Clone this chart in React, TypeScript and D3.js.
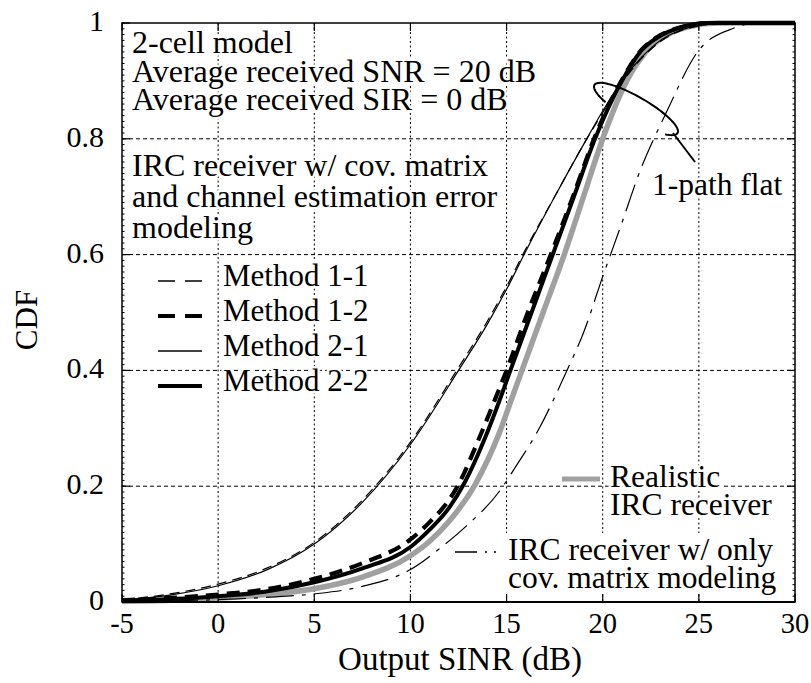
import React from 'react';
import * as d3 from 'd3';

const xTicks = [-5, 0, 5, 10, 15, 20, 25, 30];
const xTickLabels = ['-5', '0', '5', '10', '15', '20', '25', '30'];
const yTicks = [0, 0.2, 0.4, 0.6, 0.8, 1];
const yTickLabels = ['0', '0.2', '0.4', '0.6', '0.8', '1'];

// [Output SINR (dB), CDF]
const method11 = [[-5,0.004],[-2.5,0.014],[0,0.031],[2.5,0.058],[5,0.103],[7.5,0.176],[10,0.276],[12.5,0.405],[14,0.485],[15,0.545],[16,0.61],[17.5,0.7],[19,0.79],[20,0.845],[21,0.897],[22,0.938],[23,0.968],[24,0.986],[25,0.995],[26.5,1],[30,1]];
const method21 = [[-5,0.003],[-2.5,0.012],[0,0.028],[2.5,0.055],[5,0.1],[7.5,0.172],[10,0.272],[12.5,0.4],[14,0.48],[15,0.54],[16,0.606],[17.5,0.7],[19,0.79],[20,0.848],[21,0.9],[22,0.94],[23,0.97],[24,0.987],[25,0.996],[26.5,1],[30,1]];
const method12 = [[-5,0.003],[-2.5,0.007],[0,0.013],[2.5,0.022],[5,0.04],[7.5,0.067],[10,0.108],[11,0.138],[12,0.176],[12.45,0.2],[13.6,0.285],[14.4,0.35],[15,0.4],[16.1,0.5],[17.3,0.6],[18.45,0.7],[19.55,0.8],[21,0.902],[22,0.953],[23,0.979],[24,0.992],[25.5,1],[30,1]];
const method22 = [[-5,0.002],[-2.5,0.005],[0,0.01],[2.5,0.018],[5,0.034],[7.5,0.058],[10,0.095],[11,0.125],[12,0.162],[12.8,0.205],[13.9,0.285],[14.6,0.345],[15.2,0.4],[16.3,0.5],[17.4,0.6],[18.5,0.7],[19.6,0.8],[21,0.9],[22,0.952],[23,0.978],[24,0.992],[25.5,1],[30,1]];
const realistic = [[-5,0.001],[-2.5,0.003],[0,0.007],[2.5,0.013],[5,0.023],[7.5,0.043],[10,0.08],[11,0.105],[12,0.139],[13.4,0.205],[14.6,0.29],[15.2,0.345],[15.8,0.4],[16.9,0.5],[18,0.6],[19,0.7],[20,0.8],[21.25,0.9],[22.3,0.952],[23.5,0.982],[24.5,0.994],[26,1],[30,1]];
const covOnly = [[-5,0],[-2.5,0.002],[0,0.004],[2.5,0.008],[5,0.014],[7.5,0.027],[10,0.056],[11.7,0.097],[12.9,0.131],[14.6,0.19],[15.5,0.235],[16.7,0.3],[18.1,0.397],[19,0.465],[20,0.562],[21,0.655],[21.9,0.741],[23.3,0.845],[25,0.953],[26.8,0.991],[28,1],[30,1]];

const infoLines = ['2-cell model', 'Average received SNR = 20 dB', 'Average received SIR = 0 dB'];
const ircLines = ['IRC receiver w/ cov. matrix', 'and channel estimation error', 'modeling'];
const methodNames = ['Method 1-1', 'Method 1-2', 'Method 2-1', 'Method 2-2'];

const FONT = "'Liberation Serif', Tinos, 'Times New Roman', Times, serif";
const GRAY = '#a0a0a0';

export default function App() {
  const W = 811, H = 683;
  const m = { left: 122, right: 795, top: 23, bottom: 602 };
  const x = d3.scaleLinear().domain([-5, 30]).range([m.left, m.right]);
  const y = d3.scaleLinear().domain([0, 1]).range([m.bottom, m.top]);
  const line = d3.line<number[]>().x(d => x(d[0])).y(d => y(d[1])).curve(d3.curveMonotoneX);

  const halo: any = { stroke: '#fff', strokeWidth: 5, paintOrder: 'stroke', strokeLinejoin: 'round' };

  // annotation ellipse arc
  const cx = 636, cy = 109, ea = 48, eb = 12, th = (30 * Math.PI) / 180;
  const ux = Math.cos(th), uy = Math.sin(th), vx = -Math.sin(th), vy = Math.cos(th);
  const arcPts = d3.range(2.24, 2 * Math.PI + 0.7, 0.05).map(t => [
    cx + ea * Math.cos(t) * ux + eb * Math.sin(t) * vx,
    cy + ea * Math.cos(t) * uy + eb * Math.sin(t) * vy,
  ]);
  const arcPath = d3.line()(arcPts as [number, number][]);

  const minorY = d3.range(0, 1.0001, 0.01);
  const methodStyles = [
    { w: 1.3, dash: '17,10' },
    { w: 3.8, dash: '17,10' },
    { w: 1.3, dash: undefined },
    { w: 4, dash: undefined },
  ];
  const methodBaselines = [286, 321, 356, 391];

  return (
    <svg width={W} height={H} style={{ position: 'absolute', left: 0, top: 0, background: '#fff', fontFamily: FONT }}>
      <rect x={0} y={0} width={W} height={H} fill="#fff" />
      {/* grid */}
      {xTicks.slice(1, -1).map(t => (
        <line key={'gx' + t} x1={x(t)} x2={x(t)} y1={m.top} y2={m.bottom} stroke="#000" strokeWidth={1} strokeDasharray="2,2.5" />
      ))}
      {yTicks.slice(1, -1).map(t => (
        <line key={'gy' + t} x1={m.left} x2={m.right} y1={y(t)} y2={y(t)} stroke="#000" strokeWidth={1} strokeDasharray="4,3" />
      ))}
      {/* bottom-right legend white box */}
      <rect x={504} y={533} width={278} height={60} fill="#fff" />

      {/* texts in plot */}
      <g fontSize={32} fill="#000" style={halo}>
        {infoLines.map((s, i) => (
          <text key={s} x={132} y={53 + i * 28.5}>{s}</text>
        ))}
        {ircLines.map((s, i) => (
          <text key={s} x={132} y={176 + i * 31}>{s}</text>
        ))}
      </g>
      <g fontSize={31} fill="#000" style={halo}>
        {methodNames.map((s, i) => (
          <text key={s} x={223} y={methodBaselines[i]}>{s}</text>
        ))}
      </g>
      {methodNames.map((s, i) => (
        <line key={'ls' + s} x1={158} x2={202} y1={methodBaselines[i] - 5} y2={methodBaselines[i] - 5}
          stroke="#000" strokeWidth={methodStyles[i].w} strokeDasharray={methodStyles[i].dash} />
      ))}
      <g fontSize={31.5} fill="#000" style={halo}>
        <text x={610} y={487}>Realistic</text>
        <text x={610} y={515}>IRC receiver</text>
        <text x={508} y={560}>IRC receiver w/ only</text>
        <text x={508} y={588}>cov. matrix modeling</text>
        <text x={652} y={195}>1-path flat</text>
      </g>
      <line x1={562} x2={600} y1={479} y2={479} stroke={GRAY} strokeWidth={5} />
      <line x1={455} x2={498} y1={552} y2={552} stroke="#000" strokeWidth={1.5} strokeDasharray="22,8,2,7,2,40" />

      {/* curves */}
      <path d={line(realistic as any) || ''} fill="none" stroke={GRAY} strokeWidth={5.5} />
      <path d={line(covOnly as any) || ''} fill="none" stroke="#000" strokeWidth={1.2} strokeDasharray="28,8,4,8" />
      <path d={line(method21 as any) || ''} fill="none" stroke="#000" strokeWidth={1.2} />
      <path d={line(method11 as any) || ''} fill="none" stroke="#000" strokeWidth={1.2} strokeDasharray="10,6" />
      <path d={line(method22 as any) || ''} fill="none" stroke="#000" strokeWidth={4} />
      <path d={line(method12 as any) || ''} fill="none" stroke="#000" strokeWidth={4.2} strokeDasharray="13,8" />

      {/* annotation */}
      <path d={arcPath || ''} fill="none" stroke="#000" strokeWidth={2} />
      <line x1={673} y1={133} x2={695} y2={162} stroke="#000" strokeWidth={2} />

      {/* frame */}
      <rect x={m.left} y={m.top} width={m.right - m.left} height={m.bottom - m.top} fill="none" stroke="#000" strokeWidth={1.5} />
      <line x1={m.left} x2={m.right} y1={m.bottom} y2={m.bottom} stroke="#000" strokeWidth={2} />
      {minorY.map(t => (
        <g key={'my' + t}>
          <line x1={m.left} x2={m.left + 2.5} y1={y(t)} y2={y(t)} stroke="#000" strokeWidth={1} />
          <line x1={m.right} x2={m.right - 2.5} y1={y(t)} y2={y(t)} stroke="#000" strokeWidth={1} />
        </g>
      ))}
      {yTicks.map(t => (
        <g key={'ty' + t}>
          <line x1={m.left} x2={m.left + 8} y1={y(t)} y2={y(t)} stroke="#000" strokeWidth={1.2} />
          <line x1={m.right} x2={m.right - 8} y1={y(t)} y2={y(t)} stroke="#000" strokeWidth={1.2} />
        </g>
      ))}
      {xTicks.map(t => (
        <g key={'tx' + t}>
          <line x1={x(t)} x2={x(t)} y1={m.top} y2={m.top + 8} stroke="#000" strokeWidth={1.2} />
          <line x1={x(t)} x2={x(t)} y1={m.bottom} y2={m.bottom - 8} stroke="#000" strokeWidth={1.2} />
        </g>
      ))}

      {/* tick labels */}
      <g fontSize={30} fill="#000" textAnchor="end">
        {yTicks.map((t, i) => (
          <text key={'yl' + t} x={104} y={y(t) + 8}>{yTickLabels[i]}</text>
        ))}
      </g>
      <g fontSize={28.5} fill="#000" textAnchor="middle">
        {xTicks.map((t, i) => (
          <text key={'xl' + t} x={x(t)} y={633}>{xTickLabels[i]}</text>
        ))}
      </g>
      <text x={460} y={670} fontSize={33} textAnchor="middle" fill="#000">Output SINR (dB)</text>
      <text transform="translate(37,320) rotate(-90)" fontSize={31} textAnchor="middle" fill="#000">CDF</text>
    </svg>
  );
}
